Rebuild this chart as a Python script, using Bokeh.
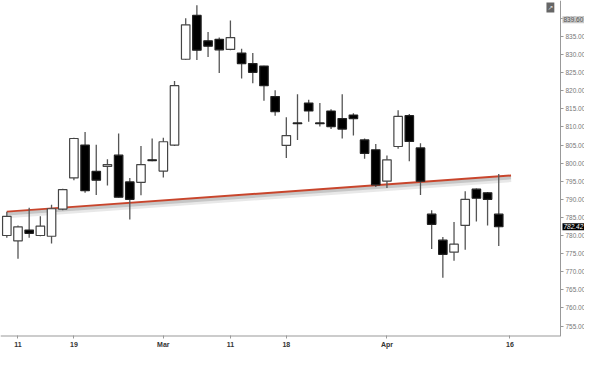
from bokeh.plotting import figure
from bokeh.models import Range1d, FixedTicker, Label, ColumnDataSource, PrintfTickFormatter
from bokeh.embed import file_html
from bokeh.resources import INLINE

# ---- data (GOOG daily, Feb 8 - Apr 15 2013) ----
dates = ["2013-02-08", "2013-02-11", "2013-02-12", "2013-02-13", "2013-02-14", "2013-02-15",
         "2013-02-19", "2013-02-20", "2013-02-21", "2013-02-22", "2013-02-25", "2013-02-26",
         "2013-02-27", "2013-02-28", "2013-03-01", "2013-03-04", "2013-03-05", "2013-03-06",
         "2013-03-07", "2013-03-08", "2013-03-11", "2013-03-12", "2013-03-13", "2013-03-14",
         "2013-03-15", "2013-03-18", "2013-03-19", "2013-03-20", "2013-03-21", "2013-03-22",
         "2013-03-25", "2013-03-26", "2013-03-27", "2013-03-28", "2013-04-01", "2013-04-02",
         "2013-04-03", "2013-04-04", "2013-04-05", "2013-04-08", "2013-04-09", "2013-04-10",
         "2013-04-11", "2013-04-12", "2013-04-15"]
axis_dates = dates + ["2013-04-16"]

opens = [780.0, 778.5, 781.5, 780.0, 779.8, 787.3, 795.9, 805.0, 797.7, 799.1,
         802.2, 794.8, 794.7, 800.9, 797.8, 805.0, 828.7, 840.8, 833.8, 834.2,
         831.4, 830.4, 827.5, 826.8, 818.4, 804.9, 811.1, 816.6, 811.1, 814.4,
         812.3, 813.3, 806.4, 803.7, 795.0, 804.6, 813.1, 804.2, 785.9, 778.7,
         775.4, 782.8, 792.8, 791.8, 785.9]
highs = [786.6, 782.8, 787.7, 785.3, 788.5, 792.9, 807.0, 808.6, 805.1, 801.1,
         808.2, 795.9, 804.7, 806.8, 807.0, 822.7, 840.0, 843.6, 836.2, 834.7,
         839.4, 831.6, 830.4, 826.9, 820.1, 812.7, 819.0, 817.5, 816.6, 814.9,
         819.0, 813.8, 806.8, 805.3, 802.1, 814.6, 813.6, 805.5, 787.0, 779.6,
         783.7, 792.2, 793.0, 792.0, 797.0]
lows = [779.4, 773.6, 779.4, 779.8, 777.8, 787.0, 795.3, 791.8, 791.2, 793.8,
        790.5, 784.4, 791.1, 800.5, 796.0, 804.7, 828.5, 828.5, 829.3, 824.9,
        831.2, 823.4, 822.1, 817.2, 813.1, 801.4, 806.4, 811.4, 810.1, 809.4,
        806.8, 807.6, 801.2, 793.4, 793.1, 804.0, 800.5, 791.2, 776.3, 768.3,
        773.0, 776.1, 783.9, 782.8, 777.1]
closes = [785.3, 782.4, 780.6, 782.6, 787.4, 792.7, 806.8, 792.4, 795.3, 799.6,
          790.6, 790.0, 799.6, 800.7, 805.9, 821.4, 838.2, 831.2, 832.3, 831.3,
          834.7, 827.5, 825.1, 821.4, 814.2, 807.6, 810.9, 814.4, 810.9, 810.1,
          809.4, 812.3, 802.7, 794.0, 800.9, 812.9, 806.0, 795.0, 783.1, 774.8,
          777.6, 790.0, 790.3, 790.0, 782.42]

tick_dates = ["2013-02-11", "2013-02-19", "2013-03-01", "2013-03-11",
              "2013-03-18", "2013-04-01", "2013-04-16"]
tick_labels = ["11", "19", "Mar", "11", "18", "Apr", "16"]
price_ticks = list(range(755, 850, 5))

trend_x = [0.0, 45.1]
trend_y = [786.6, 796.6]
marker_price = 839.60

# ---- layout constants ----
X0, X1 = -0.565, 51.67      # visible index range (full canvas width)
AXIS_X = 49.52              # where the price axis sits
Y0, Y1 = 752.1, 844.93

xs = list(range(len(dates)))
up = dict(x=[], top=[], bottom=[])
dn = dict(x=[], top=[], bottom=[])
for i, o, c in zip(xs, opens, closes):
    d = up if c >= o else dn
    d["x"].append(i)
    d["top"].append(max(o, c))
    d["bottom"].append(min(o, c))

FONT = "Liberation Sans"

p = figure(frame_width=584, frame_height=336,
           x_range=Range1d(X0, X1), y_range=Range1d(Y0, Y1),
           output_backend="svg", toolbar_location=None, y_axis_location="right",
           min_border_left=0, min_border_top=0, min_border_right=0, min_border_bottom=12,
           background_fill_color="white", border_fill_color="white",
           outline_line_color=None)
p.grid.visible = False

# trend line with soft shadow
p.line(trend_x, [v - 1.0 for v in trend_y], line_width=6, line_color="#d8d8d8", line_alpha=0.6)
p.line(trend_x, [v - 0.6 for v in trend_y], line_width=3.5, line_color="#b8b8b8", line_alpha=0.7)
p.line(trend_x, trend_y, line_width=2, line_color="#c8452c")

# wicks
p.segment(x0=xs, y0=lows, x1=xs, y1=highs, line_color="#555555", line_width=1.3)
# bodies
p.vbar(x="x", top="top", bottom="bottom", width=0.76, source=ColumnDataSource(up),
       fill_color="white", line_color="#444444", line_width=1.2)
p.vbar(x="x", top="top", bottom="bottom", width=0.76, source=ColumnDataSource(dn),
       fill_color="black", line_color="#222222", line_width=1.2)

# bottom axis line, stopping at the price axis
p.segment(x0=[X0], y0=[Y0], x1=[AXIS_X], y1=[Y0], line_color="#999999", line_width=2)

# x axis
tick_pos = [axis_dates.index(d) for d in tick_dates]
p.xaxis.ticker = FixedTicker(ticks=tick_pos)
p.xaxis.major_label_overrides = {t: l for t, l in zip(tick_pos, tick_labels)}
p.xaxis.major_label_text_font = FONT
p.xaxis.major_label_text_font_size = "7px"
p.xaxis.major_label_text_font_style = "bold"
p.xaxis.major_label_text_color = "#333333"
p.xaxis.major_label_standoff = 2
p.xaxis.axis_line_color = None
p.xaxis.major_tick_line_color = "#999999"
p.xaxis.major_tick_in = 1
p.xaxis.major_tick_out = 2
p.xaxis.minor_tick_line_color = None

# y axis (right, fixed inside the frame)
p.yaxis.fixed_location = AXIS_X
p.yaxis.ticker = FixedTicker(ticks=price_ticks)
p.yaxis.formatter = PrintfTickFormatter(format="%.2f")
p.yaxis.major_label_text_font = FONT
p.yaxis.major_label_text_font_size = "6.5px"
p.yaxis.major_label_text_color = "#777777"
p.yaxis.major_label_standoff = 2
p.yaxis.axis_line_color = "#999999"
p.yaxis.major_tick_line_color = "#999999"
p.yaxis.major_tick_in = 0
p.yaxis.major_tick_out = 3
p.yaxis.minor_tick_line_color = None

# price markers on the axis
p.add_layout(Label(x=AXIS_X, y=marker_price, x_offset=2, text=f"{marker_price:.2f}",
                   text_font=FONT, text_font_size="6.5px", text_color="#555555",
                   text_baseline="middle", background_fill_color="#c8c8c8", padding=1))
p.add_layout(Label(x=AXIS_X, y=closes[-1], x_offset=2, text=f"{closes[-1]:.2f}",
                   text_font=FONT, text_font_size="6.5px", text_color="white",
                   text_font_style="italic", text_baseline="middle",
                   background_fill_color="black", padding=1))
# small maximize icon
p.add_layout(Label(x=AXIS_X, y=Y1, x_offset=-14, y_offset=-2, text="↗",
                   text_font="DejaVu Sans", text_font_size="7px", text_color="#dddddd",
                   text_baseline="top", background_fill_color="#666666", padding=1))

open("out.html", "w").write(file_html(p, INLINE))
